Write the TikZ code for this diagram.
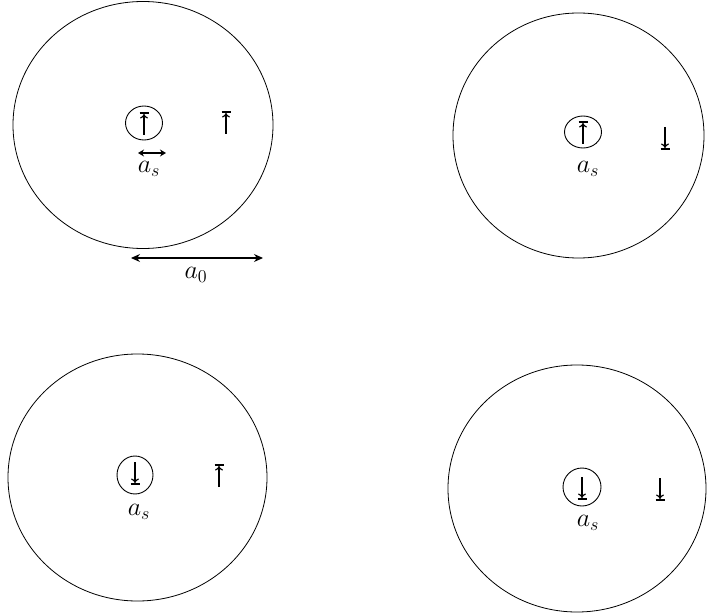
\documentclass[tikz,border=0pt]{standalone}
\usetikzlibrary{shapes.geometric,arrows.meta}
\begin{document}
\begin{tikzpicture}[x=1pt,y=-1pt,
  big/.style={draw, ellipse, line width=0.8pt, inner sep=0pt},
  small/.style={draw, ellipse, line width=0.9pt, inner sep=0pt, minimum width=37pt, minimum height=34pt},
  lab/.style={inner sep=0pt, font=\huge, scale=1.25, transform shape},
  spinline/.style={line width=1.2pt, -{To[length=4.5pt,width=8pt]}},
  barline/.style={line width=1.1pt},
  dim/.style={line width=1.2pt, {Stealth[length=9pt,width=8pt]}-{Stealth[length=9pt,width=8pt]}},
  dims/.style={line width=1.3pt, {Stealth[length=6pt,width=7pt]}-{Stealth[length=6pt,width=7pt]}},
  pics/spinup/.style={code={
    \draw[spinline] (0,11) -- (0,-10);
    \draw[barline] (-4.5,-11) -- (4.5,-11);}},
  pics/spindown/.style={code={
    \draw[spinline] (0,-11) -- (0,10);
    \draw[barline] (-4.5,11) -- (4.5,11);}}
]
\useasboundingbox (0,0) rectangle (707,615);

% top-left
\node[big, minimum width=260pt, minimum height=247pt] (c1) at (143,125) {};
\node[small] (s1) at (144,123) {};
\pic at (144,124) {spinup};
\pic at (226,123) {spinup};
\coordinate (as1l) at (138,153);
\coordinate (as1r) at (166,153);
\draw[dims] (as1l) -- (as1r);
\node[lab] (l1) at (149,168.5) {$a_s$};
\coordinate (a0l) at (131,258);
\coordinate (a0r) at (263,258);
\draw[dim] (a0l) -- (a0r);
\node[lab] (l0) at (196,275) {$a_0$};

% top-right
\node[big, minimum width=251pt, minimum height=245pt] (c2) at (578.5,135.5) {};
\node[small, minimum height=32pt] (s2) at (583,132) {};
\pic at (583,133) {spinup};
\pic at (665,138) {spindown};
\node[lab] (l2) at (588,169) {$a_s$};

% bottom-left
\node[big, minimum width=259pt, minimum height=247pt] (c3) at (137.5,477.5) {};
\node[small, minimum width=36pt, minimum height=38pt] (s3) at (135,475) {};
\pic at (135,473) {spindown};
\pic at (219,476) {spinup};
\node[lab] (l3) at (139,512) {$a_s$};

% bottom-right
\node[big, minimum width=258pt, minimum height=247pt] (c4) at (577,488.5) {};
\node[small, minimum width=38pt, minimum height=38pt] (s4) at (582,487) {};
\pic at (582,488) {spindown};
\pic at (660,489) {spindown};
\node[lab] (l4) at (588,523) {$a_s$};
\end{tikzpicture}
\end{document}
